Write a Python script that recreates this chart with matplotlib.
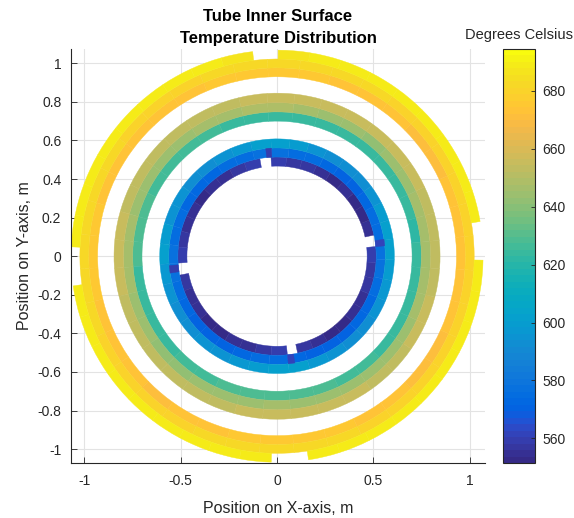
import numpy as np
import matplotlib
matplotlib.use("Agg")
import matplotlib.pyplot as plt
from matplotlib.patches import Wedge
from matplotlib.collections import PatchCollection
from matplotlib.colors import ListedColormap, Normalize

plt.rcParams["font.family"] = ["Liberation Sans", "DejaVu Sans"]
plt.rcParams["axes.unicode_minus"] = False

# parula (R2017a+), 64 rows
PARULA = [
    (0.2081, 0.1663, 0.5292), (0.2116, 0.1898, 0.5777), (0.2123, 0.2138, 0.6270),
    (0.2081, 0.2386, 0.6771), (0.1959, 0.2645, 0.7279), (0.1707, 0.2919, 0.7792),
    (0.1253, 0.3242, 0.8303), (0.0591, 0.3598, 0.8683), (0.0117, 0.3875, 0.8820),
    (0.0060, 0.4086, 0.8828), (0.0165, 0.4266, 0.8786), (0.0329, 0.4430, 0.8720),
    (0.0498, 0.4586, 0.8641), (0.0629, 0.4737, 0.8554), (0.0723, 0.4887, 0.8467),
    (0.0779, 0.5040, 0.8384), (0.0793, 0.5200, 0.8312), (0.0749, 0.5375, 0.8263),
    (0.0641, 0.5570, 0.8240), (0.0488, 0.5772, 0.8228), (0.0343, 0.5966, 0.8199),
    (0.0265, 0.6137, 0.8135), (0.0239, 0.6287, 0.8038), (0.0231, 0.6418, 0.7913),
    (0.0228, 0.6535, 0.7768), (0.0267, 0.6642, 0.7607), (0.0384, 0.6743, 0.7436),
    (0.0590, 0.6838, 0.7254), (0.0843, 0.6928, 0.7062), (0.1133, 0.7015, 0.6859),
    (0.1453, 0.7098, 0.6646), (0.1801, 0.7177, 0.6424), (0.2178, 0.7250, 0.6193),
    (0.2586, 0.7317, 0.5954), (0.3022, 0.7376, 0.5712), (0.3482, 0.7424, 0.5473),
    (0.3953, 0.7459, 0.5244), (0.4420, 0.7481, 0.5033), (0.4871, 0.7491, 0.4840),
    (0.5300, 0.7491, 0.4661), (0.5709, 0.7485, 0.4494), (0.6099, 0.7473, 0.4337),
    (0.6473, 0.7456, 0.4188), (0.6834, 0.7435, 0.4044), (0.7184, 0.7411, 0.3905),
    (0.7525, 0.7384, 0.3768), (0.7858, 0.7356, 0.3633), (0.8185, 0.7327, 0.3498),
    (0.8507, 0.7299, 0.3360), (0.8824, 0.7274, 0.3217), (0.9139, 0.7258, 0.3063),
    (0.9450, 0.7261, 0.2886), (0.9739, 0.7314, 0.2666), (0.9938, 0.7455, 0.2403),
    (0.9990, 0.7653, 0.2164), (0.9955, 0.7861, 0.1967), (0.9880, 0.8066, 0.1794),
    (0.9789, 0.8271, 0.1633), (0.9697, 0.8481, 0.1475), (0.9626, 0.8705, 0.1309),
    (0.9589, 0.8949, 0.1132), (0.9598, 0.9218, 0.0948), (0.9661, 0.9514, 0.0755),
    (0.9763, 0.9831, 0.0538),
]
cmap = ListedColormap(PARULA, name="parula")

T_MIN, T_MAX = 551.5, 694.5
CBAR_TICKS = [560, 580, 600, 620, 640, 660, 680]

# radial layer edges of the three tubes (m)
inner_r = [0.467, 0.514, 0.561, 0.608]
middle_r = [0.700, 0.748, 0.796, 0.845]
outer_r = [0.930, 0.976, 1.022, 1.068]

# angular extent (deg) of the four quarter pieces
inner_pieces = [(8.5, 93), (93, 184), (184, 276), (276, 368.5)]
inner_l1_pieces = [(12.3, 93.5), (100, 184), (191, 276), (282, 365.6)]
middle_pieces = [(5.6, 93.5), (93.5, 184.2), (184.2, 275), (275, 365.6)]
outer_pieces = [(6, 92.8), (92.8, 183.7), (183.7, 275), (275, 366)]
outer_l3_pieces = [(9.7, 89.7), (96.8, 177.4), (188.3, 268.4), (278.8, 358.9)]

# temperatures, 9 cells per quarter piece, pieces Q1..Q4
inner_l1 = [555, 553, 553, 554, 553, 555, 556, 558, 560,
            560, 557, 555, 554, 553, 554, 555, 557, 559,
            557, 555, 554, 553, 553, 554, 555, 557, 560,
            556, 554, 553, 553, 554, 555, 556, 558, 560]
inner_l2 = [576, 574, 572, 570, 571, 572, 574, 576, 578,
            578, 576, 574, 572, 572, 573, 575, 576, 577,
            577, 575, 572, 570, 570, 571, 572, 574, 576,
            573, 571, 570, 571, 572, 573, 575, 577, 578]
inner_l3 = [602, 599, 596, 593, 592, 593, 596, 599, 602,
            602, 598, 595, 592, 592, 594, 596, 599, 602,
            597, 594, 593, 593, 594, 596, 598, 600, 602,
            602, 598, 596, 593, 593, 594, 597, 599, 602]
middle_l1 = [622, 623, 624, 625, 625, 624, 624, 623, 624,
             624, 625, 626, 626, 627, 627, 628, 629, 629,
             625, 624, 624, 625, 626, 627, 628, 629, 629,
             629, 628, 627, 626, 625, 625, 624, 623, 623]
middle_l2 = [647, 646, 645, 644, 643, 644, 645, 646, 648,
             648, 647, 646, 645, 644, 644, 645, 646, 647,
             646, 645, 644, 643, 643, 644, 645, 645, 646,
             645, 645, 644, 644, 645, 645, 646, 646, 647]
middle_l3 = [653, 654, 655, 655, 655, 656, 655, 655, 655,
             655, 654, 653, 653, 653, 654, 654, 655, 655,
             655, 654, 653, 653, 653, 654, 654, 655, 656,
             656, 655, 655, 654, 654, 655, 655, 654, 654]
outer_l1 = [673, 673, 672, 672, 673, 673, 674, 675, 676,
            676, 675, 674, 673, 673, 673, 674, 675, 676,
            675, 674, 673, 673, 672, 673, 674, 675, 676,
            676, 675, 674, 673, 672, 672, 673, 673, 673]
outer_l2 = [681, 681, 680, 680, 681, 682, 682, 683, 683,
            683, 682, 681, 681, 681, 682, 682, 683, 683,
            682, 682, 681, 680, 680, 681, 682, 682, 683,
            683, 682, 681, 680, 680, 680, 681, 681, 681]
outer_l3 = [689, 689, 689, 688, 688, 689, 689, 688, 687,
            687, 688, 688, 689, 689, 689, 689, 689, 689,
            689, 689, 689, 689, 688, 688, 688, 688, 688,
            688, 689, 689, 689, 689, 689, 689, 689, 689]

# small misplaced cells next to the inner-wall gaps (deg range, temp)
inner_l2_notches = [(93, 96, 560), (5.5, 9, 561), (185, 189, 560), (276, 279.5, 561)]

LAYERS = [
    (inner_r[0], inner_r[1], inner_l1_pieces, inner_l1),
    (inner_r[1], inner_r[2], inner_pieces, inner_l2),
    (inner_r[2], inner_r[3], inner_pieces, inner_l3),
    (middle_r[0], middle_r[1], middle_pieces, middle_l1),
    (middle_r[1], middle_r[2], middle_pieces, middle_l2),
    (middle_r[2], middle_r[3], middle_pieces, middle_l3),
    (outer_r[0], outer_r[1], outer_pieces, outer_l1),
    (outer_r[1], outer_r[2], outer_pieces, outer_l2),
    (outer_r[2], outer_r[3], outer_l3_pieces, outer_l3),
]

patches, temps = [], []
for r0, r1, pieces, vals in LAYERS:
    n = len(vals) // len(pieces)
    for q, (a0, a1) in enumerate(pieces):
        edges = np.linspace(a0, a1, n + 1)
        for k in range(n):
            patches.append(Wedge((0, 0), r1, edges[k], edges[k + 1], width=r1 - r0))
            temps.append(vals[q * n + k])
for a0, a1, t in inner_l2_notches:
    patches.append(Wedge((0, 0), inner_r[2], a0, a1, width=inner_r[2] - inner_r[1]))
    temps.append(t)

fig = plt.figure(figsize=(5.74, 5.18), dpi=100)
ax = fig.add_axes([71 / 574, 55 / 518, 414 / 574, 414 / 518])
cax = fig.add_axes([503 / 574, 55 / 518, 32 / 574, 414 / 518])

pc = PatchCollection(patches, cmap=cmap, norm=Normalize(T_MIN, T_MAX),
                     edgecolor="face", linewidth=0.3)
pc.set_array(np.array(temps, dtype=float))
ax.add_collection(pc)

ax.set_xlim(-1.068, 1.078)
ax.set_ylim(-1.072, 1.074)
ax.set_xticks([-1, -0.5, 0, 0.5, 1])
ax.set_xticklabels(["-1", "-0.5", "0", "0.5", "1"])
ax.set_yticks(np.round(np.arange(-1, 1.01, 0.2), 1))
ax.set_yticklabels(["-1", "-0.8", "-0.6", "-0.4", "-0.2", "0",
                    "0.2", "0.4", "0.6", "0.8", "1"])
ax.grid(True, color="#e3e3e3", linewidth=0.8)
ax.set_axisbelow(True)
for s in ("top", "right"):
    ax.spines[s].set_visible(False)
for s in ("left", "bottom"):
    ax.spines[s].set_color("#262626")
    ax.spines[s].set_linewidth(0.8)
ax.tick_params(direction="in", length=4, width=0.6, colors="#262626",
               labelsize=10, labelcolor="#262626")
ax.tick_params(axis="x", pad=8)
ax.tick_params(axis="y", pad=7)
ax.set_xlabel("Position on X-axis, m", fontsize=11.5, color="#262626", labelpad=9)
ax.set_ylabel("Position on Y-axis, m", fontsize=11.5, color="#262626", labelpad=4)
ax.set_title("Tube Inner Surface\nTemperature Distribution",
             fontsize=12, fontweight="bold", pad=4, linespacing=1.6)

cb = fig.colorbar(pc, cax=cax)
cb.set_ticks(CBAR_TICKS)
cb.outline.set_edgecolor("#262626")
cb.outline.set_linewidth(0.8)
cax.tick_params(direction="in", length=3, width=0.6, colors="#262626",
                labelsize=10, labelcolor="#262626", pad=5)
fig.text(519 / 574, 1 - 35 / 518, "Degrees Celsius", ha="center", va="center",
         fontsize=10.5, color="#262626")

fig.savefig("out.png", dpi=100)
